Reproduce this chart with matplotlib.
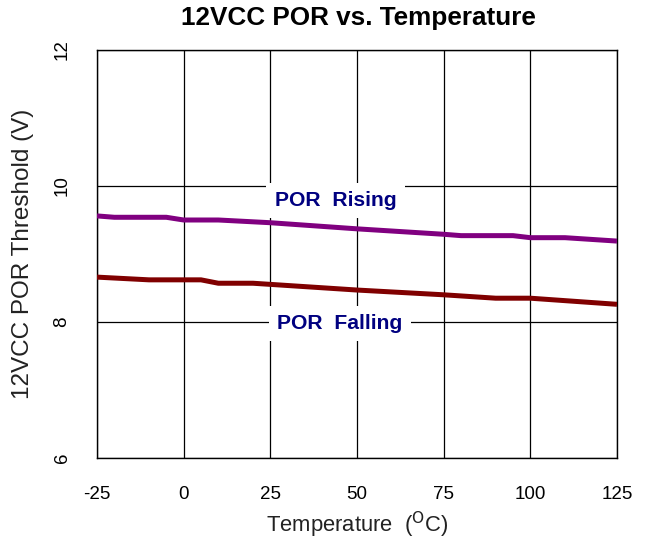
import matplotlib
matplotlib.use("Agg")
import matplotlib.pyplot as plt

# POR threshold vs. temperature
temp_rising = [-25, -20, -5, 0, 10, 25, 50, 75, 80, 95, 100, 110, 125]
vth_rising = [9.56, 9.54, 9.54, 9.50, 9.50, 9.46, 9.37, 9.29, 9.27, 9.27, 9.24, 9.24, 9.19]

temp_falling = [-25, -10, 5, 10, 20, 50, 75, 90, 100, 125]
vth_falling = [8.66, 8.62, 8.62, 8.57, 8.57, 8.47, 8.40, 8.35, 8.35, 8.26]

x_ticks = [-25, 0, 25, 50, 75, 100, 125]
y_ticks = [6, 8, 10, 12]

plt.rcParams['font.family'] = ['Liberation Sans', 'DejaVu Sans']
plt.rcParams['axes.unicode_minus'] = False

fig = plt.figure(figsize=(6.49, 5.42), dpi=100)
ax = fig.add_axes([97 / 649, 1 - 458 / 542, 520 / 649, 408 / 542])

ax.plot(temp_rising, vth_rising, color='#800080', lw=3.6, solid_capstyle='butt', zorder=3)
ax.plot(temp_falling, vth_falling, color='#800000', lw=3.6, solid_capstyle='butt', zorder=3)

ax.set_xlim(-25, 125)
ax.set_ylim(6, 12)
ax.set_xticks(x_ticks)
ax.set_yticks(y_ticks)
ax.grid(True, color='black', lw=0.9)
ax.set_axisbelow(True)
for s in ax.spines.values():
    s.set_color('black')
    s.set_linewidth(1.0)
ax.tick_params(length=0, labelsize=13.5, colors='black')
ax.tick_params(axis='x', pad=20)
ax.tick_params(axis='y', pad=19)
for lbl in ax.get_yticklabels():
    lbl.set_rotation(90)
    lbl.set_va('center')

fig.text(358.5 / 649, 1 - 18 / 542, '12VCC POR vs. Temperature', fontsize=18.8,
         fontweight='bold', ha='center', va='center')
ax.set_xlabel('Temperature  ($^{\\mathrm{O}}$C)', fontsize=15.8, labelpad=5, color='#222222')
ax.set_ylabel('12VCC POR Threshold (V)', fontsize=17.5, labelpad=14, color='#222222')

box = dict(facecolor='white', edgecolor='none', pad=6)
ax.text(43.8, 9.79, 'POR  Rising', color='#000080', fontsize=15.2, fontweight='bold',
        ha='center', va='center', bbox=box, zorder=4)
ax.text(45.1, 7.98, 'POR  Falling', color='#000080', fontsize=15.2, fontweight='bold',
        ha='center', va='center', bbox=box, zorder=4)

fig.savefig('out.png', dpi=100)
